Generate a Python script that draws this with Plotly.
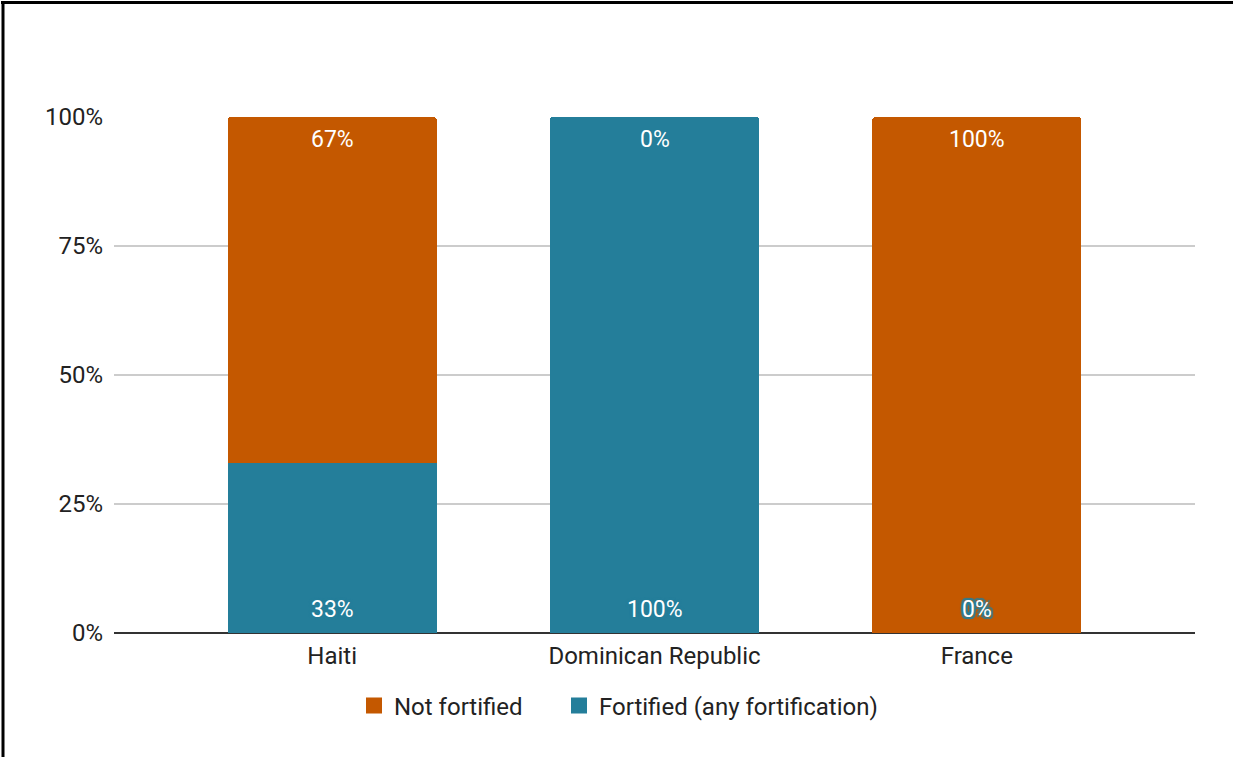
import plotly.graph_objects as go

countries = ["Haiti", "Dominican Republic", "France"]
not_fortified = [67, 0, 100]
fortified = [33, 100, 0]
y_ticks = [0, 25, 50, 75, 100]
y_tick_labels = ["0%", "25%", "50%", "75%", "100%"]

ORANGE = "#C45800"
TEAL = "#247E9A"
FONT = "Roboto, Arial, sans-serif"

W, H = 1233, 757
L, R, T, B = 114, 38, 117, 124
pw, ph = W - L - R, H - T - B

def px_x(x):
    return (x - L) / pw

def px_y(y):
    return (H - B - y) / ph

fig = go.Figure()
fig.add_trace(go.Bar(x=countries, y=fortified, marker_color=TEAL, name="Fortified (any fortification)",
                     showlegend=False, width=0.648, marker_line_width=0))
fig.add_trace(go.Bar(x=countries, y=not_fortified, marker_color=ORANGE, name="Not fortified",
                     showlegend=False, width=0.648, marker_line_width=0))

# legend proxies
fig.add_trace(go.Scatter(x=[None], y=[None], mode="markers", name="Not fortified", legend="legend",
                         marker=dict(symbol="square", size=16, color=ORANGE)))
fig.add_trace(go.Scatter(x=[None], y=[None], mode="markers", name="Fortified (any fortification)",
                         legend="legend2", marker=dict(symbol="square", size=16, color=TEAL)))

annotations = []
for c, nf, f in zip(countries, not_fortified, fortified):
    annotations.append(dict(x=c, y=f + nf, text=f"{nf}%", showarrow=False, yshift=-22,
                            font=dict(family=FONT, size=23, color="white")))
    annotations.append(dict(x=c, y=0, text=f"{f}%", showarrow=False, yshift=24,
                            font=dict(family=FONT, size=23, color="white",
                                      shadow=f"2px 2px 1px {TEAL}, -2px -2px 1px {TEAL}, 2px -2px 1px {TEAL}, -2px 2px 1px {TEAL}")))

shapes = [
    dict(type="line", xref="paper", yref="paper", x0=px_x(1), x1=px_x(1233), y0=px_y(2.5), y1=px_y(2.5),
         line=dict(color="black", width=3)),
    dict(type="line", xref="paper", yref="paper", x0=px_x(3), x1=px_x(3), y0=px_y(1), y1=px_y(757),
         line=dict(color="black", width=3)),
]

legend_common = dict(orientation="h", xanchor="left", y=px_y(706), yanchor="middle",
                     font=dict(size=24, color="#222222"), itemsizing="trace", bgcolor="rgba(0,0,0,0)")

fig.update_layout(
    width=W, height=H,
    margin=dict(l=L, r=R, t=T, b=B),
    barmode="stack",
    barcornerradius=3,
    plot_bgcolor="white", paper_bgcolor="white",
    font=dict(family=FONT, size=24, color="#222222"),
    xaxis=dict(type="category", range=[-0.677, 2.677], showgrid=False, showline=False,
               ticks="", tickfont=dict(size=24, color="#222222"), ticklabelstandoff=6),
    yaxis=dict(range=[0, 100], tickvals=y_ticks, ticktext=y_tick_labels, showgrid=True,
               gridcolor="#CCCCCC", gridwidth=1.5, zeroline=True, zerolinecolor="#333333",
               zerolinewidth=2, showline=False, ticks="", ticklabelstandoff=10,
               tickfont=dict(size=24, color="#222222")),
    legend=dict(x=px_x(354), **legend_common),
    legend2=dict(x=px_x(559), **legend_common),
    annotations=annotations,
    shapes=shapes,
)

fig.write_html("out.html")
